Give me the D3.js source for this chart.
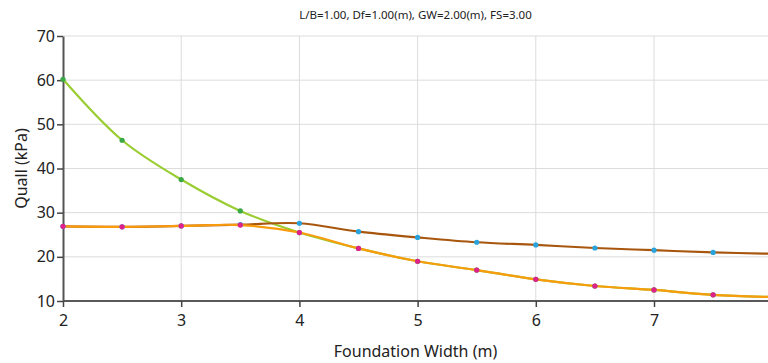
<!DOCTYPE html>
<html>
<head>
<meta charset="utf-8">
<script src="https://cdn.jsdelivr.net/npm/d3@7"></script>
<style>
  body { margin: 0; background: #fff; }
  svg { display: block; font-family: "Noto Sans", "Open Sans", sans-serif; }
</style>
</head>
<body>
<div id="chart"></div>
<script>
// widths (m)
const widths = [2, 2.5, 3, 3.5, 4, 4.5, 5, 5.5, 6, 6.5, 7, 7.5, 8];
// Quall (kPa) per series
const seriesGreen = [60.2, 46.4, 37.5, 30.4, 25.5, 21.9, 19.0, 17.0, 14.9, 13.4, 12.5, 11.4, 10.9];
const seriesBrown = [26.9, 26.8, 27.0, 27.3, 27.6, 25.7, 24.4, 23.3, 22.7, 22.0, 21.5, 21.0, 20.7];
const seriesOrange = [26.9, 26.8, 27.0, 27.2, 25.5, 21.9, 19.0, 17.0, 14.9, 13.4, 12.5, 11.4, 10.9];
const xTicks = [2, 3, 4, 5, 6, 7];
const yTicks = [10, 20, 30, 40, 50, 60, 70];
const title = "L/B=1.00, Df=1.00(m), GW=2.00(m), FS=3.00";

const width = 768, height = 363;
const margins = {top: 36, right: 0, bottom: 62, left: 63};

const svg = d3.select("#chart").append("svg")
    .attr("width", width)
    .attr("height", height);

// x domain ends just past the visible edge, like the original
const x = d3.scaleLinear().domain([2, 8]).range([margins.left, margins.left + 6 * 118.2]);
const y = d3.scaleLinear().domain([10, 70]).range([height - margins.bottom, margins.top]);

// grid
svg.append("g").selectAll("line.v")
    .data(xTicks.slice(1))
    .enter().append("line")
    .attr("x1", d => x(d)).attr("x2", d => x(d))
    .attr("y1", y(10)).attr("y2", y(70))
    .attr("stroke", "#dcdcdc").attr("stroke-width", 1);

svg.append("g").selectAll("line.h")
    .data(yTicks.slice(1))
    .enter().append("line")
    .attr("x1", margins.left).attr("x2", width)
    .attr("y1", d => y(d)).attr("y2", d => y(d))
    .attr("stroke", "#dcdcdc").attr("stroke-width", 1);

// axes
const xAxis = svg.append("g")
    .attr("transform", "translate(0," + y(10) + ")")
    .call(d3.axisBottom(x).tickValues(xTicks).tickFormat(d3.format("d")).tickSize(6).tickSizeOuter(0).tickPadding(8));
xAxis.select(".domain").attr("d", "M" + margins.left + ",0H" + width).attr("stroke", "#222").attr("stroke-width", 1.5);

const yAxis = svg.append("g")
    .attr("transform", "translate(" + margins.left + ",0)")
    .call(d3.axisLeft(y).tickValues(yTicks).tickSize(6).tickSizeOuter(0).tickPadding(2));
yAxis.select(".domain").attr("stroke", "#555").attr("stroke-width", 2);

svg.selectAll(".tick line").attr("stroke", "#444").attr("stroke-width", 1.5);
svg.selectAll(".tick text")
    .style("font-family", "'Noto Sans', 'Open Sans', sans-serif")
    .style("font-size", "16px")
    .attr("fill", "#222");

// titles
svg.append("text")
    .attr("x", (margins.left + width) / 2).attr("y", 19)
    .attr("text-anchor", "middle")
    .style("font-size", "11.5px").attr("fill", "#222")
    .text(title);

svg.append("text")
    .attr("x", (margins.left + width) / 2).attr("y", 357)
    .attr("text-anchor", "middle")
    .style("font-size", "16px").attr("fill", "#222")
    .text("Foundation Width (m)");

svg.append("text")
    .attr("transform", "translate(27," + ((y(10) + y(70)) / 2) + ") rotate(-90)")
    .attr("text-anchor", "middle")
    .style("font-size", "16px").attr("fill", "#222")
    .text("Quall (kPa)");

// series
const series = [
    {values: seriesGreen, line: "#9acd32", dot: "#3aa845"},
    {values: seriesBrown, line: "#a8560e", dot: "#29a3dc"},
    {values: seriesOrange, line: "#f89c0e", dot: "#e0218a"}
];

const line = d3.line()
    .x((d, i) => x(widths[i]))
    .y(d => y(d))
    .curve(d3.curveCatmullRom);

series.forEach(s => {
    svg.append("path")
        .attr("d", line(s.values))
        .attr("fill", "none")
        .attr("stroke", s.line)
        .attr("stroke-width", 2.2);
});

series.forEach(s => {
    svg.append("g").selectAll("circle")
        .data(s.values)
        .enter().append("circle")
        .attr("cx", (d, i) => x(widths[i]))
        .attr("cy", d => y(d))
        .attr("r", 2.6)
        .attr("fill", s.dot);
});
</script>
</body>
</html>
